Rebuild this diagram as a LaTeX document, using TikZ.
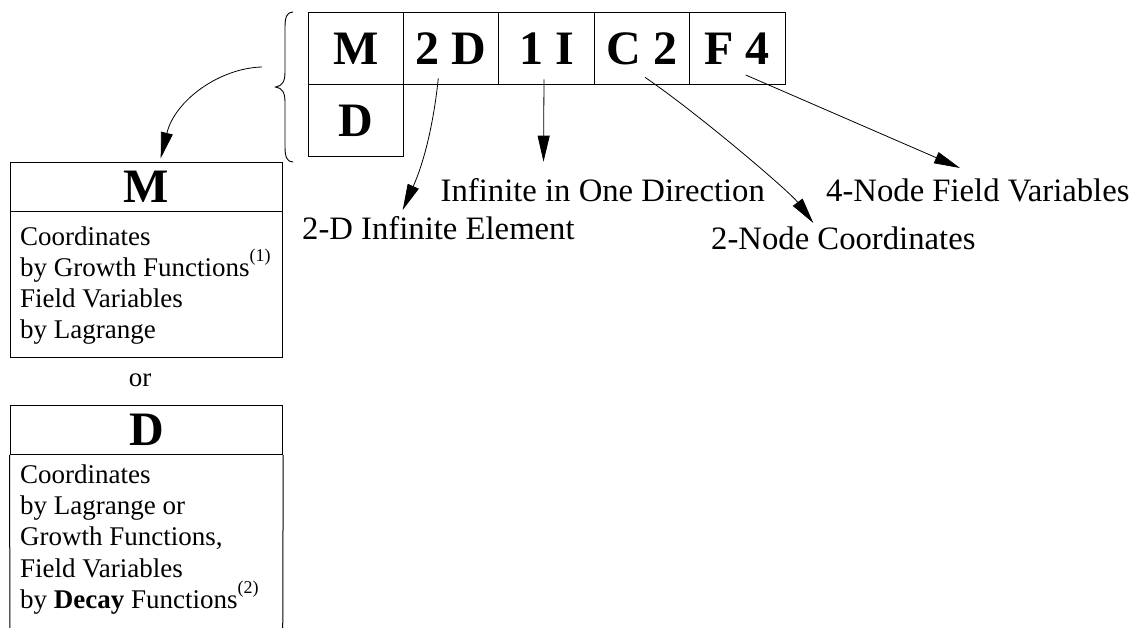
\documentclass[tikz,border=0pt]{standalone}
\usepackage{fontspec}
\setmainfont{Liberation Serif}
\usetikzlibrary{arrows.meta}
\newcommand\supn[1]{\smash{\raisebox{15pt}{\fontsize{18}{18}\selectfont(#1)}}}
\begin{document}
\begin{tikzpicture}[x=1pt,y=-1pt,
  cell/.style={draw, line width=1pt, minimum width=95.4pt, minimum height=72pt, inner sep=0pt,
    font=\fontsize{48}{48}\selectfont\bfseries},
  hbox/.style={draw, line width=1pt, minimum width=272.7pt, inner sep=0pt,
    font=\fontsize{48}{48}\selectfont\bfseries},
  body/.style={anchor=base west, inner sep=0pt, align=left, font=\fontsize{27}{31.3}\selectfont},
  lab/.style={anchor=base west, inner sep=0pt, font=\fontsize{32.7}{32.7}\selectfont},
  conn/.style={line width=0.8pt, -{Triangle[length=26pt,width=12pt]}}]
\useasboundingbox (0,0) rectangle (1145,628);
% code grid
\node[cell] (cM)  at (355.7,49) {M};
\node[cell] (c2D) at (451.1,49) {2 D};
\node[cell] (c1I) at (546.5,49) {1 I};
\node[cell] (cC2) at (641.9,49) {C 2};
\node[cell] (cF4) at (737.3,49) {F 4};
\node[cell] (cD)  at (355.7,121) {D};
% brace
\draw[line width=0.9pt] (293,12) .. controls (287,12) and (285,17) .. (285,27) -- (285,72)
  .. controls (285,82) and (282,86) .. (275.5,87)
  .. controls (282,88) and (285,92) .. (285,102) -- (285,147)
  .. controls (285,157) and (287,162) .. (293,162);
% M box
\node[hbox, minimum height=49pt] (Mhead) at (146.35,187.2) {M};
\node[draw, line width=1pt, minimum width=272.7pt, minimum height=146pt, inner sep=0pt] (Mbox) at (146.35,284.7) {};
\node[body] (Mtext) at (20,338.9) {Coordinates\\by Growth Functions\supn{1}\\Field Variables\\by Lagrange};
\node[anchor=base, inner sep=0pt, font=\fontsize{27}{27}\selectfont] (or) at (140,386.7) {or};
% D box
\node[hbox, minimum height=48.6pt] (Dhead) at (146.35,430) {D};
\draw[line width=1pt] (Dhead.south west) -- (10,640) -- (282.7,640) -- (Dhead.south east);
\node[body] (Dtext) at (20,608.3) {Coordinates\\by Lagrange or\\Growth Functions,\\Field Variables\\by \textbf{Decay} Functions\supn{2}};
% labels
\node[lab] (l2D) at (302,240) {2-D Infinite Element};
\node[lab] (l1I) at (440.5,201.7) {Infinite in One Direction};
\node[lab] (lC2) at (711,250) {2-Node Coordinates};
\node[lab] (lF4) at (826,201.7) {4-Node Field Variables};
% connector ends
\coordinate (bs) at (262,67);
\coordinate (bt) at (160.7,158.3);
\coordinate (a2s) at (438.3,78.3);
\coordinate (a2t) at (402.7,210);
\coordinate (a1s) at (544,79.3);
\coordinate (a1t) at (543.5,161.7);
\coordinate (acs) at (645,77.3);
\coordinate (act) at (813.3,223);
\coordinate (afs) at (745.7,75);
\coordinate (aft) at (960,168);
% connectors
\draw[conn] (bs) .. controls (220,68) and (175,100) .. (bt);
\draw[conn] (a2s) .. controls (434,120) and (425,160) .. (a2t);
\draw[conn] (a1s) -- (a1t);
\draw[conn] (acs) .. controls (700,115) and (790,192) .. (act);
\draw[conn] (afs) -- (aft);
\end{tikzpicture}
\end{document}
